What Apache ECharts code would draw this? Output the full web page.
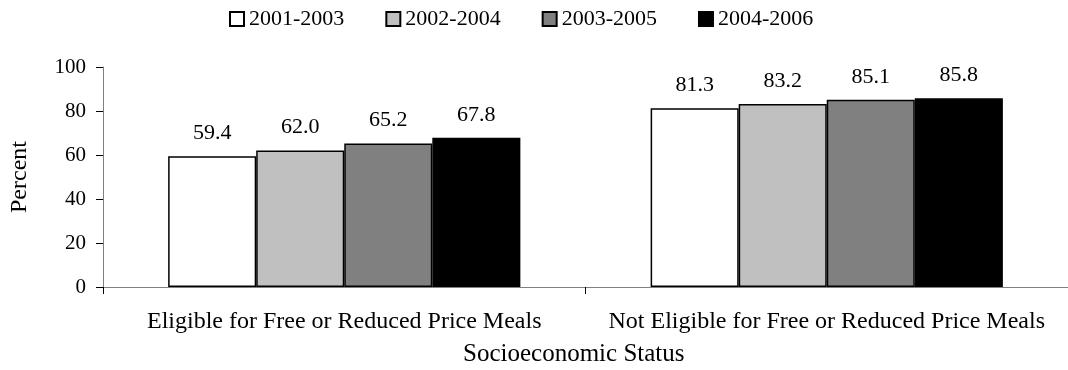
<!DOCTYPE html>
<html>
<head>
<meta charset="utf-8">
<script src="https://cdn.jsdelivr.net/npm/echarts@6/dist/echarts.min.js"></script>
<style>
html,body{margin:0;padding:0;background:#fff;}
#chart{width:1068px;height:370px;}
</style>
</head>
<body>
<div id="chart"></div>
<script>
const categories = ['Eligible for Free or Reduced Price Meals', 'Not Eligible for Free or Reduced Price Meals'];
const seriesNames = ['2001-2003', '2002-2004', '2003-2005', '2004-2006'];
const s2001_2003 = [59.4, 81.3];
const s2002_2004 = [62.0, 83.2];
const s2003_2005 = [65.2, 85.1];
const s2004_2006 = [67.8, 85.8];
const yTicks = [0, 20, 40, 60, 80, 100];

const seriesValues = [s2001_2003, s2002_2004, s2003_2005, s2004_2006];
const colors = ['#FFFFFF', '#C0C0C0', '#808080', '#000000'];
const FONT = '"Liberation Serif", "Times New Roman", serif';

const chart = echarts.init(document.getElementById('chart'), null, {renderer: 'canvas'});
chart.setOption({
  animation: false,
  backgroundColor: '#ffffff',
  textStyle: {fontFamily: FONT, color: '#000'},
  legend: {
    data: seriesNames,
    left: 229,
    top: 8,
    padding: 0,
    itemWidth: 14,
    itemHeight: 14,
    itemGap: 41,
    icon: 'rect',
    textStyle: {fontFamily: FONT, fontSize: 22, color: '#000'}
  },
  grid: {left: 98, width: 976, top: 67, bottom: 83, containLabel: false},
  xAxis: {
    type: 'category',
    data: categories,
    axisLine: {lineStyle: {color: '#808080', width: 1}},
    axisTick: {show: true, alignWithLabel: false, length: 7, lineStyle: {color: '#000'}},
    axisLabel: {fontFamily: FONT, fontSize: 24, color: '#000', margin: 23, interval: 0}
  },
  yAxis: {
    type: 'value',
    min: yTicks[0],
    max: yTicks[yTicks.length - 1],
    interval: 20,
    name: 'Percent',
    nameLocation: 'middle',
    nameGap: 71,
    nameTextStyle: {fontFamily: FONT, fontSize: 24, color: '#000'},
    axisLine: {show: true, lineStyle: {color: '#808080', width: 1}},
    axisTick: {show: true, length: 7, lineStyle: {color: '#000'}},
    splitLine: {show: false},
    axisLabel: {fontFamily: FONT, fontSize: 21, color: '#000', margin: 17}
  },
  graphic: [{
    type: 'text',
    left: 463,
    top: 342,
    style: {text: 'Socioeconomic Status', font: '25px "Liberation Serif", "Times New Roman", serif', fill: '#000'}
  }],
  series: seriesNames.map((name, i) => ({
    name: name,
    type: 'bar',
    data: seriesValues[i],
    barGap: '0%',
    barCategoryGap: '27%',
    itemStyle: {color: colors[i], borderColor: '#000', borderWidth: 1.5},
    label: {
      show: true,
      position: 'top',
      distance: 12,
      fontFamily: FONT,
      fontSize: 22,
      color: '#000',
      formatter: p => p.value.toFixed(1)
    }
  }))
});
</script>
</body>
</html>
